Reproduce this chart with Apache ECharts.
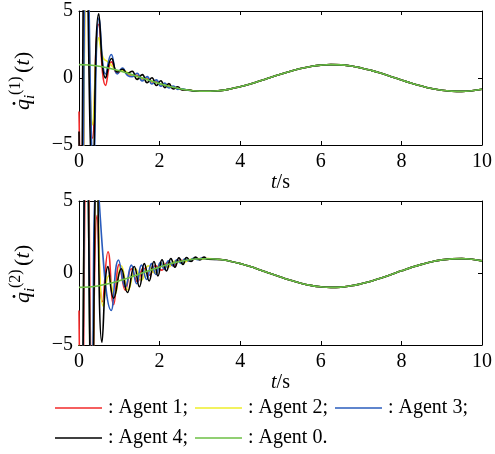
<!DOCTYPE html>
<html>
<head>
<meta charset="utf-8">
<script src="https://cdn.jsdelivr.net/npm/echarts@6/dist/echarts.min.js"></script>
<style>
    html, body { margin: 0; padding: 0; background: #fff; }
    #chart { width: 495px; height: 454px; }
</style>
</head>
<body>
<div id="chart"></div>
<script>
var agentNames = ['Agent 1', 'Agent 2', 'Agent 3', 'Agent 4', 'Agent 0'];
var legendText = [': Agent 1;', ': Agent 2;', ': Agent 3;', ': Agent 4;', ': Agent 0.'];
var colors = ['#f22a2a', '#eeee2a', '#2a5cbd', '#000000', '#6cbf45'];

// leader (Agent 0), [t, value]
var leaderTop = [
    [0, 1.00], [0.25, 0.97], [0.5, 0.88], [0.75, 0.73], [1, 0.54], [1.25, 0.32], [1.5, 0.07],
    [1.75, -0.18], [2, -0.42], [2.25, -0.63], [2.5, -0.80], [2.75, -0.92], [3, -0.99],
    [3.25, -0.99], [3.5, -0.94], [3.75, -0.82], [4, -0.65], [4.25, -0.45], [4.5, -0.21],
    [4.75, 0.04], [5, 0.28], [5.25, 0.51], [5.5, 0.71], [5.75, 0.86], [6, 0.96], [6.25, 1.00],
    [6.5, 0.98], [6.75, 0.89], [7, 0.75], [7.25, 0.57], [7.5, 0.35], [7.75, 0.10], [8, -0.15],
    [8.25, -0.39], [8.5, -0.60], [8.75, -0.78], [9, -0.91], [9.25, -0.98], [9.5, -1.00],
    [9.75, -0.95], [10, -0.84]
];
var leaderBot = [
    [0, -1.00], [0.25, -0.97], [0.5, -0.88], [0.75, -0.73], [1, -0.54], [1.25, -0.32], [1.5, -0.07],
    [1.75, 0.18], [2, 0.42], [2.25, 0.63], [2.5, 0.80], [2.75, 0.92], [3, 0.99],
    [3.25, 0.99], [3.5, 0.94], [3.75, 0.82], [4, 0.65], [4.25, 0.45], [4.5, 0.21],
    [4.75, -0.04], [5, -0.28], [5.25, -0.51], [5.5, -0.71], [5.75, -0.86], [6, -0.96], [6.25, -1.00],
    [6.5, -0.98], [6.75, -0.89], [7, -0.75], [7.25, -0.57], [7.5, -0.35], [7.75, -0.10], [8, 0.15],
    [8.25, 0.39], [8.5, 0.60], [8.75, 0.78], [9, 0.91], [9.25, 0.98], [9.5, 1.00],
    [9.75, 0.95], [10, 0.84]
];

// transient parts of agents 1..4 (extrema)
var top1 = [[0, -2.5], [0.07, -11], [0.19, 11], [0.34, -4.5], [0.49, 4.0], [0.66, -0.55], [0.81, 1.2],
    [0.95, 0.35], [1.08, 0.6], [1.2, 0.3], [1.32, 0.2], [1.44, 0.2], [1.57, -0.08], [1.69, -0.05],
    [1.81, -0.3], [1.92, -0.28], [2.03, -0.5], [2.13, -0.5], [2.3, -0.68], [2.5, -0.82], [2.7, -0.9], [2.85, -0.96]];
var top2 = [[0, -5.5], [0.06, -12], [0.2, 10], [0.34, -3.5], [0.49, 3.0], [0.6, 1.5], [0.72, 1.2],
    [0.85, 0.8], [0.95, 0.5], [1.1, 0.55], [1.25, 0.3], [1.4, 0.15], [1.55, 0.0], [1.7, -0.12],
    [1.85, -0.28], [2.0, -0.42], [2.2, -0.6], [2.4, -0.74], [2.6, -0.86], [2.8, -0.94]];
var top3 = [[0, -6], [0.06, -13], [0.19, 12], [0.36, -6.5], [0.5, 4.5], [0.66, 0.3], [0.8, 1.75],
    [0.95, 0.3], [1.08, 0.75], [1.2, 0.2], [1.32, 0.1], [1.44, 0.35], [1.57, -0.22], [1.69, 0.1],
    [1.81, -0.45], [1.92, -0.14], [2.03, -0.62], [2.13, -0.38], [2.23, -0.75], [2.34, -0.6],
    [2.45, -0.85], [2.56, -0.8], [2.7, -0.92], [2.85, -0.96]];
var top4 = [[0, -4], [0.04, -12], [0.16, 13], [0.34, -7.5], [0.49, 4.8], [0.66, 0.0], [0.81, 1.45],
    [0.95, 0.45], [1.08, 0.65], [1.2, 0.35], [1.32, 0.5], [1.44, -0.1], [1.57, 0.25], [1.69, -0.35],
    [1.81, 0.02], [1.92, -0.56], [2.03, -0.2], [2.13, -0.72], [2.23, -0.42], [2.34, -0.82],
    [2.45, -0.65], [2.56, -0.9], [2.7, -0.88], [2.85, -0.97]];

var bot1 = [[0, -2.6], [0.06, -12], [0.2, 12], [0.33, -8], [0.45, 4], [0.58, -2.0], [0.72, 1.48],
    [0.86, -2.2], [1.0, 0.6], [1.15, -1.2], [1.3, 0.3], [1.45, -0.6], [1.6, 0.35], [1.75, -0.15],
    [1.9, 0.5], [2.05, 0.2], [2.2, 0.72], [2.35, 0.5], [2.5, 0.88], [2.7, 0.85], [2.9, 0.98], [3.1, 1.0]];
var bot2 = [[0, -5], [0.05, -12], [0.18, 12], [0.32, -10], [0.44, 7], [0.6, -2.3], [0.74, -0.2],
    [0.88, -1.5], [1.05, 0.5], [1.22, -1.2], [1.4, 0.3], [1.55, -0.5], [1.72, 0.5], [1.88, 0.0],
    [2.05, 0.65], [2.2, 0.4], [2.4, 0.85], [2.6, 0.75], [2.8, 0.97], [3.0, 0.95], [3.2, 1.0]];
var bot3 = [[0, -7], [0.05, -13], [0.18, 12], [0.32, -9], [0.44, 6.5], [0.8, -2.6], [0.98, 0.9], [1.15, -1.0],
    [1.3, 0.55], [1.43, -0.75], [1.55, 0.55], [1.68, -0.45], [1.8, 0.65], [1.91, -0.1], [2.02, 0.75],
    [2.12, 0.25], [2.22, 0.85], [2.33, 0.5], [2.43, 0.92], [2.53, 0.68], [2.63, 0.98], [2.73, 0.82],
    [2.84, 1.02], [2.95, 0.93], [3.05, 1.03], [3.15, 0.98]];
var bot4 = [[0, -5], [0.05, -13], [0.18, 13], [0.32, -11], [0.44, 8], [0.57, -4.8], [0.72, 0.45],
    [0.86, -1.75], [1.05, 0.3], [1.2, -1.35], [1.37, 0.45], [1.5, -0.95], [1.62, 0.65], [1.74, -0.55],
    [1.86, 0.8], [1.96, -0.2], [2.06, 0.92], [2.17, 0.15], [2.28, 1.0], [2.38, 0.4], [2.48, 1.05],
    [2.58, 0.6], [2.67, 1.08], [2.78, 0.8], [2.89, 1.1], [3.0, 0.9], [3.1, 1.1], [3.2, 0.95]];

function withTail(part, leader) {
    var last = part[part.length - 1][0];
    return part.concat(leader.filter(function (p) { return p[0] > last + 0.1; }));
}

var topData = [withTail(top1, leaderTop), withTail(top2, leaderTop), withTail(top3, leaderTop), withTail(top4, leaderTop), leaderTop];
var botData = [withTail(bot1, leaderBot), withTail(bot2, leaderBot), withTail(bot3, leaderBot), withTail(bot4, leaderBot), leaderBot];

var FONT = 'Liberation Serif';
var FS = 20;
var nameRich = {
    it: { fontFamily: FONT, fontSize: FS, fontStyle: 'italic', color: '#000' },
    s: { fontFamily: FONT, fontSize: FS, color: '#000' }
};

function xAxisPair(gridIndex, nameGap) {
    return [{
        type: 'value', gridIndex: gridIndex, min: 0, max: 10, interval: 2, position: 'bottom',
        name: '{it|t}{s|/s}', nameLocation: 'middle', nameGap: nameGap,
        nameTextStyle: { fontFamily: FONT, fontSize: FS, color: '#000', rich: nameRich },
        axisLine: { onZero: false, lineStyle: { color: '#000', width: 1 } },
        axisTick: { inside: true, length: 4, lineStyle: { color: '#000' } },
        axisLabel: { fontFamily: FONT, fontSize: FS, color: '#000', margin: 7 },
        splitLine: { show: false }
    }, {
        type: 'value', gridIndex: gridIndex, min: 0, max: 10, interval: 2, position: 'top',
        axisLine: { show: true, onZero: false, lineStyle: { color: '#000', width: 1 } },
        axisTick: { inside: true, length: 4, lineStyle: { color: '#000' } },
        axisLabel: { show: false }, splitLine: { show: false }
    }];
}

function yAxisPair(gridIndex) {
    return [{
        type: 'value', gridIndex: gridIndex, min: -5, max: 5, interval: 5, position: 'left',
        axisLine: { show: true, onZero: false, lineStyle: { color: '#000', width: 1 } },
        axisTick: { inside: true, length: 4, lineStyle: { color: '#000' } },
        axisLabel: { fontFamily: FONT, fontSize: FS, color: '#000', margin: 6,
            formatter: function (v) { return v < 0 ? '\u2212' + Math.abs(v) : '' + v; } },
        splitLine: { show: false }
    }, {
        type: 'value', gridIndex: gridIndex, min: -5, max: 5, interval: 5, position: 'right',
        axisLine: { show: true, onZero: false, lineStyle: { color: '#000', width: 1 } },
        axisTick: { inside: true, length: 4, lineStyle: { color: '#000' } },
        axisLabel: { show: false }, splitLine: { show: false }
    }];
}

function makeSeries(data, axisIndex) {
    return data.map(function (d, i) {
        return {
            name: agentNames[i], type: 'line', data: d, smooth: 0.5,
            xAxisIndex: axisIndex, yAxisIndex: axisIndex,
            showSymbol: false, clip: true, animation: false,
            lineStyle: { color: colors[i], width: 1.6 }, itemStyle: { color: colors[i] },
            z: 2 + i
        };
    });
}

function txt(x, y, s, size, italic) {
    return { type: 'text', x: x, y: y, silent: true, style: {
        text: s, fill: '#000', verticalAlign: 'bottom',
        font: (italic ? 'italic ' : '') + size + 'px "Liberation Serif"'
    } };
}

// rotated y axis title: q-dot, sub i, sup (k), then (t)
function yLabel(x, y, sup) {
    return {
        type: 'group', x: x, y: y, rotation: Math.PI / 2, silent: true,
        children: [
            txt(0, 0, 'q', 22, true),
            { type: 'circle', shape: { cx: 6.5, cy: -20, r: 1.4 }, style: { fill: '#000' } },
            txt(11, 4, 'i', 15, true),
            txt(15, -10, sup, 16, false),
            txt(37, 0, '(', 22, false),
            txt(44.5, 0, 't', 22, true),
            txt(51, 0, ')', 22, false)
        ]
    };
}

function legendBox(names, top) {
    return {
        data: names, top: top, left: 55, orient: 'horizontal', padding: 0,
        icon: 'rect', itemWidth: 47, itemHeight: 1.6, itemGap: 7,
        selectedMode: false,
        textStyle: { fontFamily: FONT, fontSize: FS, color: '#000', padding: [0, 0, 0, 1] },
        formatter: function (name) { return legendText[agentNames.indexOf(name)]; }
    };
}

var chart = echarts.init(document.getElementById('chart'));
chart.setOption({
    animation: false,
    backgroundColor: '#fff',
    textStyle: { fontFamily: FONT },
    grid: [
        { left: 79, top: 11, width: 408, height: 134, show: false },
        { left: 79, top: 201, width: 408, height: 144, show: false }
    ],
    xAxis: xAxisPair(0, 28).concat(xAxisPair(1, 27)),
    yAxis: yAxisPair(0).concat(yAxisPair(1)),
    legend: [
        legendBox(['Agent 1', 'Agent 2', 'Agent 3'], 398),
        legendBox(['Agent 4', 'Agent 0'], 428)
    ],
    graphic: [yLabel(34, 110, '(1)'), yLabel(34, 303, '(2)')],
    series: makeSeries(topData, 0).concat(makeSeries(botData, 2))
});
</script>
</body>
</html>
